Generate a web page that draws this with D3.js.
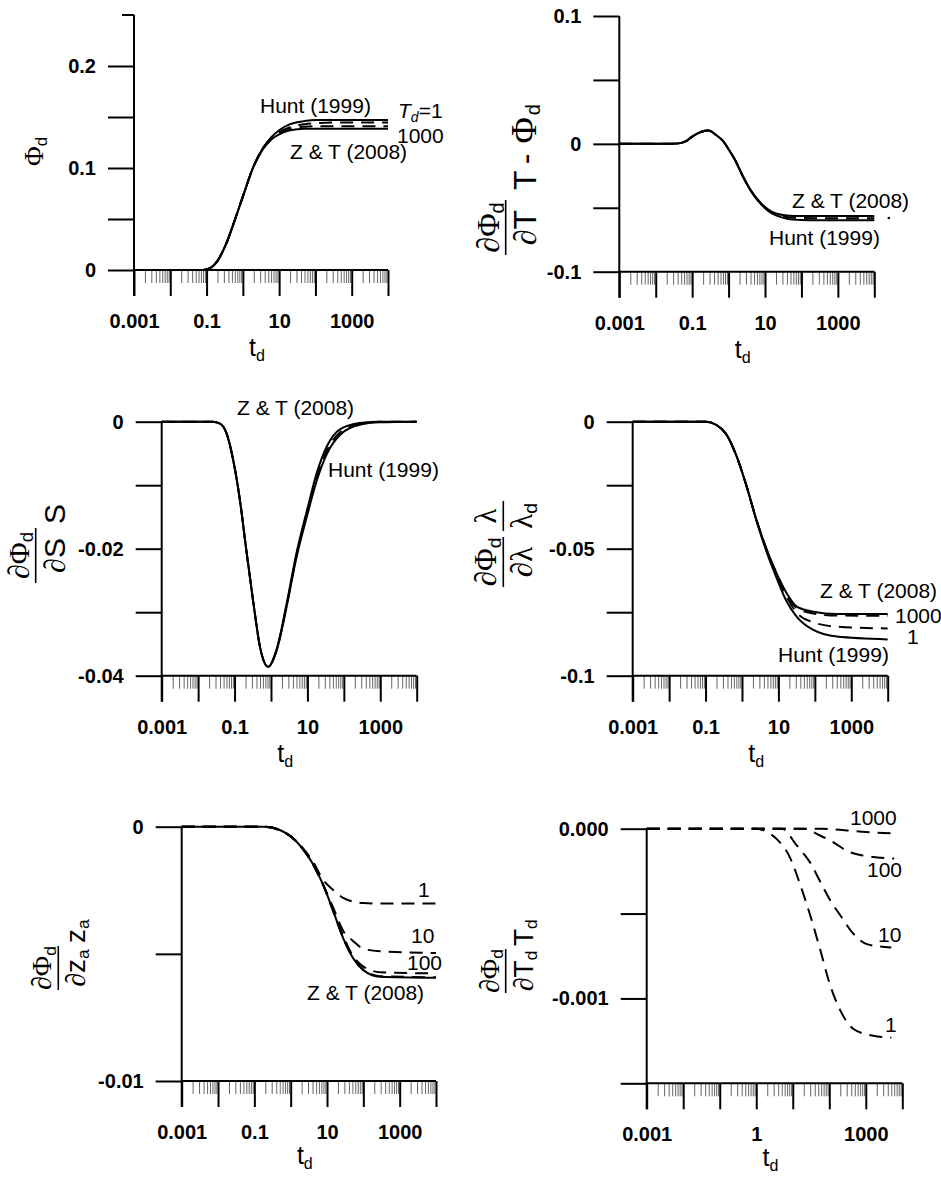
<!DOCTYPE html>
<html><head><meta charset="utf-8">
<script src="https://cdn.jsdelivr.net/npm/d3@7"></script>
<style>body{margin:0;background:#fff}svg{display:block}</style>
</head><body>
<script>
// ---------------- DATA ----------------
// Panel 1: Phi_d
const p1T      = [0.001,0.05,0.08,0.12,0.2,0.35,0.6,1,2,3.5,6,10,20,50,100,300,10000];
const p1Hunt   = [0,0,0,0.0015,0.009,0.026,0.049,0.072,0.102,0.119,0.130,0.137,0.143,0.146,0.147,0.147,0.147];
const p1ZT     = [0,0,0,0.0015,0.009,0.026,0.049,0.072,0.102,0.118,0.128,0.133,0.137,0.1385,0.1385,0.1385,0.1385];
const p1Td1    = [0,0,0,0.0015,0.009,0.026,0.049,0.072,0.102,0.119,0.129,0.135,0.140,0.143,0.144,0.1445,0.1445];
const p1Td1000 = [0,0,0,0.0015,0.009,0.026,0.049,0.072,0.102,0.118,0.128,0.134,0.1385,0.1405,0.141,0.141,0.141];

// Panel 2: dPhi/dT * T - Phi
const p2T    = [0.001,0.02,0.04,0.07,0.1,0.18,0.28,0.45,0.7,1,1.5,2.5,4,7,12,20,40,100,300,10000];
const p2ZT   = [0,0,0.0003,0.0023,0.0057,0.0095,0.0104,0.0070,0.0023,-0.0042,-0.0125,-0.0256,-0.036,-0.0451,-0.0512,-0.0545,-0.0560,-0.0565,-0.0565,-0.0565];
const p2Hunt = [0,0,0.0003,0.0023,0.0057,0.0095,0.0104,0.0070,0.0023,-0.0042,-0.0126,-0.0258,-0.0364,-0.0458,-0.0522,-0.0560,-0.0585,-0.0595,-0.0598,-0.0598];
const p2Td   = [0,0,0.0003,0.0023,0.0057,0.0095,0.0104,0.0070,0.0023,-0.0042,-0.0125,-0.0257,-0.0362,-0.0455,-0.0517,-0.0553,-0.0572,-0.0580,-0.0581,-0.0581];
const p2Dot  = [25000, -0.058];

// Panel 3: dPhi/dS * S
const p3T    = [0.001,0.025,0.04,0.06,0.09,0.14,0.21,0.33,0.5,0.84,1.4,2.7,5,10,18,34,78,275,1000,10000];
const p3ZT   = [0,0,-0.0003,-0.0018,-0.0058,-0.0123,-0.0202,-0.0286,-0.0355,-0.0386,-0.0360,-0.0286,-0.0207,-0.0137,-0.0081,-0.0039,-0.0012,-0.0002,0,0];
const p3Hunt = [0,0,-0.0003,-0.0018,-0.0058,-0.0123,-0.0202,-0.0286,-0.0355,-0.0386,-0.0362,-0.0291,-0.0214,-0.0146,-0.0093,-0.0051,-0.0021,-0.0005,-0.0001,0];
const p3Td1  = [0,0,-0.0003,-0.0018,-0.0058,-0.0123,-0.0202,-0.0286,-0.0355,-0.0386,-0.0361,-0.0289,-0.0211,-0.0142,-0.0088,-0.0046,-0.0017,-0.0003,0,0];

// Panel 4: dPhi/dlambda * lambda/lambda_d
const p4T      = [0.001,0.1,0.2,0.38,0.72,1.35,2.5,4.8,8.9,17,32,91,400,10000];
const p4ZT     = [0,0,-0.0013,-0.0052,-0.0138,-0.0256,-0.0387,-0.0505,-0.0597,-0.0676,-0.0728,-0.0748,-0.0757,-0.0757];
const p4Hunt   = [0,0,-0.0013,-0.0052,-0.0138,-0.0256,-0.0390,-0.0515,-0.0615,-0.0709,-0.0768,-0.0820,-0.0846,-0.0857];
const p4Td1000 = [0,0,-0.0013,-0.0052,-0.0138,-0.0256,-0.0387,-0.0505,-0.0598,-0.0679,-0.0733,-0.0755,-0.0763,-0.0764];
const p4Td1    = [0,0,-0.0013,-0.0052,-0.0138,-0.0256,-0.0388,-0.0508,-0.0602,-0.0690,-0.0752,-0.0790,-0.0807,-0.0814];

// Panel 5: dPhi/dza * za
const p5T      = [0.001,0.18,0.5,1.46,4.2,7.9,15,28,53,100,287,10000];
const p5ZT     = [0,0,-0.00013,-0.00059,-0.0015,-0.0023,-0.00334,-0.00439,-0.00518,-0.00564,-0.0059,-0.00594];
const p5Td1    = [0,0,-0.00013,-0.00058,-0.0014,-0.0021,-0.0025,-0.0028,-0.00295,-0.0030,-0.00302,-0.00302];
const p5Td10   = [0,0,-0.00013,-0.00059,-0.0015,-0.0023,-0.0032,-0.0041,-0.0045,-0.0048,-0.0049,-0.00497];
const p5Td100  = [0,0,-0.00013,-0.00059,-0.0015,-0.0023,-0.00333,-0.0043,-0.0051,-0.0055,-0.00572,-0.00577];
const p5Td1000 = [0,0,-0.00013,-0.00059,-0.0015,-0.0023,-0.00334,-0.00439,-0.00517,-0.00562,-0.00588,-0.00592];

// Panel 6: dPhi/dTd * Td (dashed, one per Td)
const p6Td1T    = [0.001,1,2,3.6,8.4,16,30,56,105,200,460,1600,5000];
const p6Td1     = [0,0,-0.00002,-0.00006,-0.00017,-0.00033,-0.00051,-0.00071,-0.00092,-0.00107,-0.00118,-0.00122,-0.00123];
const p6Td10T   = [0.001,5,13,30,56,105,200,460,1070,5000];
const p6Td10    = [0,0,-0.0001,-0.0002,-0.00031,-0.00042,-0.00051,-0.00062,-0.00068,-0.0007];
const p6Td100T  = [0.001,20,56,130,300,700,6000];
const p6Td100   = [0,0,-0.00004,-0.00008,-0.00013,-0.000155,-0.000176];
const p6Td1000T = [0.001,60,300,1000,7500];
const p6Td1000  = [0,0,-0.00001,-0.00002,-0.000027];

// Tick values / labels
const xMajor = [0.001,0.01,0.1,1,10,100,1000,10000];
const xLabelsA = ["0.001","0.1","10","1000"];
const xLabelsB = ["0.001","1","1000"];
const p1YTicks = [0,0.05,0.1,0.15,0.2];
const p1YLabels = ["0","","0.1","","0.2"];
const p2YTicks = [-0.1,-0.05,0,0.05,0.1];
const p2YLabels = ["-0.1","","0","","0.1"];
const p3YTicks = [-0.04,-0.03,-0.02,-0.01,0];
const p3YLabels = ["-0.04","","-0.02","","0"];
const p4YTicks = [-0.1,-0.075,-0.05,-0.025,0];
const p4YLabels = ["-0.1","","-0.05","","0"];
const p5YTicks = [-0.01,-0.005,0];
const p5YLabels = ["-0.01","","0"];
const p6YTicks = [-0.0015,-0.001,-0.0005,0];
const p6YLabels = ["","-0.001","","0.000"];

// ---------------- DRAWING ----------------
const SANS = "'Liberation Sans', Arial, Helvetica, sans-serif";
const SERIF = "'Liberation Serif', 'Times New Roman', serif";
const svg = d3.select("body").append("svg").attr("width",941).attr("height",1177)
  .style("font-family",SANS);

function minorTicks(){
  const m=[]; for(let e=-3;e<4;e++) for(let k=2;k<10;k++) m.push(k*Math.pow(10,e)); return m;
}

function panel(cfg){
  const g = svg.append("g");
  const x = d3.scaleLog().domain([0.001,10000]).range([cfg.x0,cfg.x1]);
  const y = d3.scaleLinear().domain(cfg.yDom).range([cfg.yBot,cfg.yTop]);
  const ya = g.append("g").attr("transform",`translate(${cfg.x0},0)`)
    .call(d3.axisLeft(y).tickValues(cfg.yTicks).tickSize(26).tickPadding(12)
      .tickFormat((d,i)=>cfg.yLabels[i]));
  ya.select(".domain").remove();
  ya.selectAll("line").attr("stroke","#000").attr("stroke-width",2);
  ya.selectAll("text").attr("font-size",20).attr("font-weight","bold").attr("font-family",SANS).attr("fill","#000");
  if(cfg.topStub){
    g.append("line").attr("x1",cfg.x0-12).attr("x2",cfg.x0).attr("y1",cfg.yTop).attr("y2",cfg.yTop)
      .attr("stroke","#000").attr("stroke-width",2);
  }
  const xm = g.append("g").attr("transform",`translate(0,${cfg.yBot})`)
    .call(d3.axisBottom(x).tickValues(minorTicks()).tickSize(13).tickFormat(""));
  xm.select(".domain").remove();
  xm.selectAll("line").attr("stroke","#555").attr("stroke-width",0.9);
  const xa = g.append("g").attr("transform",`translate(0,${cfg.yBot})`)
    .call(d3.axisBottom(x).tickValues(xMajor).tickSize(26).tickPadding(18)
      .tickFormat(d=>{const i=cfg.xLab.vals.indexOf(d); return i>=0?cfg.xLab.labels[i]:"";}));
  xa.select(".domain").remove();
  xa.selectAll("line").attr("stroke","#000").attr("stroke-width",2);
  xa.selectAll("text").attr("font-size",20).attr("font-weight","bold").attr("font-family",SANS).attr("fill","#000");
  g.append("line").attr("x1",cfg.x0).attr("x2",cfg.x1).attr("y1",cfg.yBot).attr("y2",cfg.yBot)
    .attr("stroke","#000").attr("stroke-width",2);
  g.append("line").attr("x1",cfg.x0).attr("x2",cfg.x0).attr("y1",cfg.yTop).attr("y2",cfg.yBot+26)
    .attr("stroke","#000").attr("stroke-width",2);
  const xt = g.append("text").attr("x",(cfg.x0+cfg.x1)/2-4).attr("y",cfg.yBot+(cfg.titleOff||86))
    .attr("text-anchor","middle").attr("font-size",25).attr("font-family",SANS);
  xt.append("tspan").text("t");
  xt.append("tspan").text("d").attr("font-size",16).attr("dy",5);
  const line = d3.line().x(d=>x(d[0])).y(d=>y(d[1])).curve(d3.curveMonotoneX);
  cfg.series.forEach(s=>{
    const pts = s.t.map((t,i)=>[t,s.v[i]]);
    g.append("path").attr("d",line(pts)).attr("fill","none").attr("stroke","#000")
      .attr("stroke-width",s.w||2).attr("stroke-dasharray",s.dash?"13,8":null)
      .attr("stroke-linejoin","round");
  });
  (cfg.notes||[]).forEach(n=>{
    const t = g.append("text").attr("x",n.x).attr("y",n.y).attr("font-size",21).attr("font-family",SANS);
    n.parts.forEach(p=>{
      const ts=t.append("tspan").text(p[0]);
      if(p[1]==="i") ts.attr("font-style","italic");
      if(p[1]==="isub") ts.attr("font-style","italic").attr("font-size",14).attr("dy",4);
      if(p[1]==="up") ts.attr("dy",-4);
    });
  });
  return {g,x,y};
}

// parts: [text, kind, extra]; kind: serif | serifI | sub | (sans); extra = {dx, size}
function addRun(g, parts, x, y, anchor, size){
  const t = g.append("text").attr("x",x).attr("y",y).attr("text-anchor",anchor)
    .attr("font-size",size).attr("font-family",SANS);
  let shifted=0;
  parts.forEach(p=>{
    const ts=t.append("tspan").text(p[0]);
    const ex=p[2]||{};
    let dy=0;
    if(p[1]==="sub"){ ts.attr("font-size",size*0.62); dy = size*0.15 - shifted; shifted=size*0.15; }
    else { dy = -shifted; shifted=0; }
    if(dy) ts.attr("dy",dy);
    if(ex.dx) ts.attr("dx",ex.dx);
    if(ex.size) ts.attr("font-size",ex.size);
    if(p[1]==="serif") ts.attr("font-family",SERIF);
    if(p[1]==="serifI") ts.attr("font-family",SERIF).attr("font-style","italic");
  });
  return t;
}
function yLabel(L){
  const g = svg.append("g").attr("transform",`translate(${L.ox},${L.oy}) rotate(-90)`);
  (L.fracs||[]).forEach(f=>{
    g.append("line").attr("x1",f.x).attr("x2",f.x+f.len).attr("y1",0).attr("y2",0)
      .attr("stroke","#000").attr("stroke-width",1.6);
    addRun(g,f.num,f.x+f.len/2,L.numBase!=null?L.numBase:-7,"middle",L.size);
    addRun(g,f.den,f.x+f.len/2,L.denBase,"middle",L.size);
  });
  if(L.trail) addRun(g,L.trail,L.trailX,L.trailY!=null?L.trailY:L.denBase,"start",L.size);
}

const dPhid = [["\u2202","serifI"],["\u03A6","serif"],["d","sub"]];

// Panel 1
const P1 = panel({x0:134,x1:388,yTop:15,yBot:270,yDom:[0,0.25],yTicks:p1YTicks,yLabels:p1YLabels,
  xLab:{vals:[0.001,0.1,10,1000],labels:xLabelsA}, topStub:true,
  series:[{t:p1T,v:p1Hunt},{t:p1T,v:p1ZT},{t:p1T,v:p1Td1,dash:1},{t:p1T,v:p1Td1000,dash:1}],
  notes:[{x:260,y:113,parts:[["Hunt (1999)"]]},
         {x:398,y:118,parts:[["T","i"],["d","isub"],["=1","up"]]},
         {x:397,y:143,parts:[["1000"]]},
         {x:290,y:159,parts:[["Z & T (2008)"]]}]});
yLabel({ox:43,oy:166,size:27,trail:[["\u03A6","serif"],["d","sub"]],trailX:0,trailY:0});

// Panel 2
const P2 = panel({x0:619.3,x1:874.3,yTop:16,yBot:271.7,yDom:[-0.1,0.1],yTicks:p2YTicks,yLabels:p2YLabels,
  xLab:{vals:[0.001,0.1,10,1000],labels:xLabelsA},
  series:[{t:p2T,v:p2ZT},{t:p2T,v:p2Hunt},{t:p2T,v:p2Td,dash:1}],
  notes:[{x:792,y:208,parts:[["Z & T (2008)"]]},{x:769,y:245,parts:[["Hunt (1999)"]]}]});
P2.g.append("circle").attr("cx",P2.x(p2Dot[0])).attr("cy",P2.y(p2Dot[1])).attr("r",1.3).attr("fill","#000");
yLabel({ox:505.7,oy:255,size:32,denBase:30,
  fracs:[{x:0,len:55,num:dPhid,den:[["\u2202","serifI"],["T"]]}],
  trail:[["T"],["-","",{dx:8}],["\u03A6","serif",{dx:10,size:36}],["d","sub",{dx:2}]],trailX:65});

// Panel 3
const P3 = panel({x0:161.7,x1:416.7,yTop:421.7,yBot:675.7,yDom:[-0.04,0],yTicks:p3YTicks,yLabels:p3YLabels,
  xLab:{vals:[0.001,0.1,10,1000],labels:xLabelsA},
  series:[{t:p3T,v:p3ZT},{t:p3T,v:p3Hunt},{t:p3T,v:p3Td1,dash:1}],
  notes:[{x:237,y:415,parts:[["Z & T (2008)"]]},{x:328,y:477,parts:[["Hunt (1999)"]]}]});
yLabel({ox:35.7,oy:583,size:30,denBase:29,
  fracs:[{x:0,len:55,num:dPhid,den:[["\u2202","serifI"],["S"]]}],
  trail:[["S"]],trailX:59});

// Panel 4
const P4 = panel({x0:632.7,x1:887.7,yTop:421.7,yBot:675.7,yDom:[-0.1,0],yTicks:p4YTicks,yLabels:p4YLabels,
  xLab:{vals:[0.001,0.1,10,1000],labels:xLabelsA},
  series:[{t:p4T,v:p4ZT},{t:p4T,v:p4Hunt},{t:p4T,v:p4Td1000,dash:1},{t:p4T,v:p4Td1,dash:1}],
  notes:[{x:820,y:598,parts:[["Z & T (2008)"]]},{x:895,y:623,parts:[["1000"]]},
         {x:907,y:644,parts:[["1"]]},{x:778,y:662,parts:[["Hunt (1999)"]]}]});
yLabel({ox:503.3,oy:587,size:31,denBase:29,
  fracs:[{x:0,len:50,num:dPhid,den:[["\u2202","serifI"],["\u03BB","serif"]]},
         {x:56,len:30,num:[["\u03BB","serif"]],den:[["\u03BB","serif"],["d","sub"]]}]});

// Panel 5
const P5 = panel({x0:181.7,x1:436,yTop:826.7,yBot:1081,yDom:[-0.01,0],yTicks:p5YTicks,yLabels:p5YLabels,
  xLab:{vals:[0.001,0.1,10,1000],labels:xLabelsA}, titleOff:83,
  series:[{t:p5T,v:p5ZT},{t:p5T,v:p5Td1,dash:1},{t:p5T,v:p5Td10,dash:1},{t:p5T,v:p5Td100,dash:1},{t:p5T,v:p5Td1000,dash:1}],
  notes:[{x:418,y:897,parts:[["1"]]},{x:411,y:943,parts:[["10"]]},{x:407,y:970,parts:[["100"]]},
         {x:307,y:1000,parts:[["Z & T (2008)"]]}]});
yLabel({ox:58.3,oy:990,size:28,denBase:27,
  fracs:[{x:0,len:44,num:dPhid,den:[["\u2202","serifI"],["z"],["a","sub"]]}],
  trail:[["z"],["a","sub"]],trailX:47});

// Panel 6
const P6 = panel({x0:646.7,x1:902.3,yTop:828.7,yBot:1083.3,yDom:[-0.0015,0],yTicks:p6YTicks,yLabels:p6YLabels,
  xLab:{vals:[0.001,1,1000],labels:xLabelsB}, titleOff:83,
  series:[{t:p6Td1T,v:p6Td1,dash:1},{t:p6Td10T,v:p6Td10,dash:1},{t:p6Td100T,v:p6Td100,dash:1},{t:p6Td1000T,v:p6Td1000,dash:1}],
  notes:[{x:850,y:825,parts:[["1000"]]},{x:867,y:877,parts:[["100"]]},{x:878,y:942,parts:[["10"]]},
         {x:885,y:1032,parts:[["1"]]}]});
yLabel({ox:505.7,oy:993,size:28,denBase:27,
  fracs:[{x:0,len:44,num:dPhid,den:[["\u2202","serifI"],["T"],["d","sub"]]}],
  trail:[["T"],["d","sub"]],trailX:47});
</script>
</body></html>
